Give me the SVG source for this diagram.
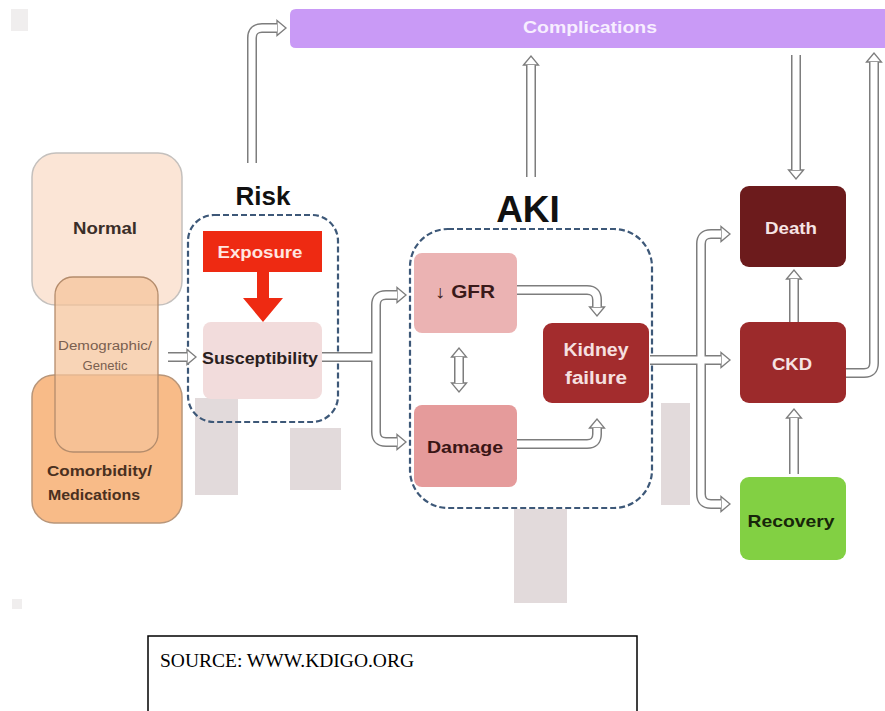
<svg xmlns="http://www.w3.org/2000/svg" xmlns:xlink="http://www.w3.org/1999/xlink" width="885" height="711" viewBox="0 0 885 711">
<style>
text{font-family:"Liberation Sans",Arial,sans-serif;font-weight:bold;text-anchor:middle}
.po{fill:none;stroke:#7d7d7d;stroke-width:10}
.pi{fill:none;stroke:#ffffff;stroke-width:7}
.dash{fill:none;stroke:#3d5878;stroke-width:2.2;stroke-dasharray:6,3}
.gray{fill:#e2dadb}
</style>
<defs>
<marker id="ah" markerUnits="userSpaceOnUse" markerWidth="14" markerHeight="20" refX="1" refY="10" orient="auto-start-reverse">
<path d="M1,2.5 L10,10 L1,17.5 Z" fill="#fff" stroke="#7d7d7d" stroke-width="1.3"/>
</marker>
</defs>
<rect width="885" height="711" fill="#fff"/>
<rect x="11" y="9" width="17" height="22" fill="#f0eeee"/>
<rect x="12" y="599" width="10" height="10" fill="#f0eeee"/>

<g id="complications">
<path d="M296,9 H885 V48 H296 Q290,48 290,42 V15 Q290,9 296,9 Z" fill="#c99af6"/>
<text x="590" y="33" font-size="17" fill="#f7eeff" textLength="134" lengthAdjust="spacingAndGlyphs">Complications</text>
</g>

<g id="normal">
<rect x="32" y="153" width="150" height="152" rx="24" fill="#fbe5d6" stroke="#c4c0bd" stroke-width="1.5"/>
<text x="105" y="234" font-size="16" fill="#3a2e28" textLength="64" lengthAdjust="spacingAndGlyphs">Normal</text>
</g>
<g id="comorbidity">
<rect x="32" y="375" width="150" height="148" rx="22" fill="#f8bb88" stroke="#b8967a" stroke-width="1.5"/>
<text x="47" y="476" font-size="15" fill="#4a3020" style="text-anchor:start" textLength="105" lengthAdjust="spacingAndGlyphs">Comorbidity/</text>
<text x="48" y="500" font-size="15" fill="#4a3020" style="text-anchor:start" textLength="92" lengthAdjust="spacingAndGlyphs">Medications</text>
</g>
<g id="demographic">
<rect x="55" y="277" width="103" height="175" rx="18" fill="#f5c49a" fill-opacity="0.72" stroke="#b48c6c" stroke-width="1.3"/>
<text x="105" y="350" font-size="12" fill="#7a6050" style="font-weight:normal" textLength="94" lengthAdjust="spacingAndGlyphs">Demographic/</text>
<text x="105" y="370" font-size="12" fill="#7a6050" style="font-weight:normal" textLength="45" lengthAdjust="spacingAndGlyphs">Genetic</text>
</g>

<g id="gray-blocks">
<rect class="gray" x="195" y="398" width="43" height="97"/>
<rect class="gray" x="290" y="428" width="51" height="62"/>
<rect class="gray" x="661" y="403" width="29" height="102"/>
<rect class="gray" x="514" y="509" width="53" height="94"/>
</g>

<g id="risk">
<text x="263" y="205" font-size="26" fill="#111">Risk</text>
<rect class="dash" x="188" y="215" width="150" height="207" rx="26"/>
</g>
<g id="exposure">
<rect x="203" y="231" width="119" height="41" fill="#ee2a12"/>
<text x="260" y="258" font-size="16" fill="#ffe6e0" textLength="85" lengthAdjust="spacingAndGlyphs">Exposure</text>
<path d="M257,272 H269 V298 H283 L263,322 L243,298 H257 Z" fill="#ee2a12"/>
</g>
<g id="susceptibility">
<rect x="203" y="322" width="119" height="77" rx="8" fill="#f2dcdc"/>
<text x="260" y="364" font-size="16" fill="#2a2020" textLength="116" lengthAdjust="spacingAndGlyphs">Susceptibility</text>
</g>

<g id="aki">
<text x="528" y="222" font-size="37" fill="#111">AKI</text>
<rect class="dash" x="410" y="229" width="242" height="279" rx="38"/>
</g>
<g id="gfr">
<rect x="414" y="253" width="103" height="80" rx="8" fill="#ebb3b3"/>
<text x="465" y="298" font-size="18" fill="#3a1a1a" textLength="60" lengthAdjust="spacingAndGlyphs">↓ GFR</text>
</g>
<g id="damage">
<rect x="414" y="405" width="103" height="82" rx="8" fill="#e59b9b"/>
<text x="465" y="453" font-size="17" fill="#3a1515" textLength="76" lengthAdjust="spacingAndGlyphs">Damage</text>
</g>
<g id="kidney-failure">
<rect x="543" y="323" width="106" height="80" rx="9" fill="#a32c2d"/>
<text x="596" y="356" font-size="18" fill="#f6e0e0" textLength="65" lengthAdjust="spacingAndGlyphs">Kidney</text>
<text x="596" y="384" font-size="18" fill="#f6e0e0" textLength="62" lengthAdjust="spacingAndGlyphs">failure</text>
</g>

<g id="death">
<rect x="740" y="186" width="106" height="81" rx="9" fill="#6c1b1c"/>
<text x="791" y="234" font-size="17" fill="#f6e4e4" textLength="52" lengthAdjust="spacingAndGlyphs">Death</text>
</g>
<g id="ckd">
<rect x="740" y="322" width="106" height="81" rx="9" fill="#9c2a2b"/>
<text x="792" y="370" font-size="17" fill="#f6e4e4" textLength="40" lengthAdjust="spacingAndGlyphs">CKD</text>
</g>
<g id="recovery">
<rect x="740" y="477" width="106" height="83" rx="9" fill="#82d043"/>
<text x="791" y="527" font-size="17" fill="#17260a" textLength="87" lengthAdjust="spacingAndGlyphs">Recovery</text>
</g>

<g id="connectors">
<defs>
<path id="c1" d="M252,163 V38 Q252,28 262,28 H277"/>
<path id="c2" d="M531,177 V65"/>
<path id="c3" d="M796,55 V170"/>
<path id="c4" d="M846,373 H864 Q874,373 874,363 V62"/>
<path id="c5" d="M168,357 H187"/>
<path id="c6" d="M322,357 H376"/>
<path id="c7" d="M376,357 V305 Q376,295 386,295 H397"/>
<path id="c8" d="M376,357 V432 Q376,442 386,442 H397"/>
<path id="c9" d="M517,290 H587 Q597,290 597,300 V307"/>
<path id="c10" d="M517,444 H587 Q597,444 597,434 V428"/>
<path id="c11" d="M459,357 V383"/>
<path id="c12" d="M650,360 H721"/>
<path id="c13" d="M701,360 V244 Q701,234 711,234 H721"/>
<path id="c14" d="M701,360 V494 Q701,504 711,504 H721"/>
<path id="c15" d="M794,322 V279"/>
<path id="c16" d="M794,474 V418"/>
</defs>
<use xlink:href="#c1" class="po" marker-end="url(#ah)"/><use xlink:href="#c1" class="pi"/>
<use xlink:href="#c2" class="po" marker-end="url(#ah)"/><use xlink:href="#c2" class="pi"/>
<use xlink:href="#c3" class="po" marker-end="url(#ah)"/><use xlink:href="#c3" class="pi"/>
<use xlink:href="#c4" class="po" marker-end="url(#ah)"/><use xlink:href="#c4" class="pi"/>
<use xlink:href="#c5" class="po" marker-end="url(#ah)"/><use xlink:href="#c5" class="pi"/>
<use xlink:href="#c6" class="po"/>
<use xlink:href="#c7" class="po" marker-end="url(#ah)"/>
<use xlink:href="#c8" class="po" marker-end="url(#ah)"/>
<use xlink:href="#c6" class="pi"/><use xlink:href="#c7" class="pi"/><use xlink:href="#c8" class="pi"/>
<use xlink:href="#c9" class="po" marker-end="url(#ah)"/><use xlink:href="#c9" class="pi"/>
<use xlink:href="#c10" class="po" marker-end="url(#ah)"/><use xlink:href="#c10" class="pi"/>
<use xlink:href="#c11" class="po" marker-start="url(#ah)" marker-end="url(#ah)"/><use xlink:href="#c11" class="pi"/>
<use xlink:href="#c12" class="po" marker-end="url(#ah)"/>
<use xlink:href="#c13" class="po" marker-end="url(#ah)"/>
<use xlink:href="#c14" class="po" marker-end="url(#ah)"/>
<use xlink:href="#c12" class="pi"/><use xlink:href="#c13" class="pi"/><use xlink:href="#c14" class="pi"/>
<use xlink:href="#c15" class="po" marker-end="url(#ah)"/><use xlink:href="#c15" class="pi"/>
<use xlink:href="#c16" class="po" marker-end="url(#ah)"/><use xlink:href="#c16" class="pi"/>
</g>

<g id="source">
<rect x="148" y="636" width="489" height="90" fill="#fff" stroke="#000" stroke-width="1.5"/>
<text x="160" y="667" font-size="19.5" style="font-family:'Liberation Serif','Times New Roman',serif;font-weight:normal;text-anchor:start" fill="#000">SOURCE: WWW.KDIGO.ORG</text>
</g>
</svg>
